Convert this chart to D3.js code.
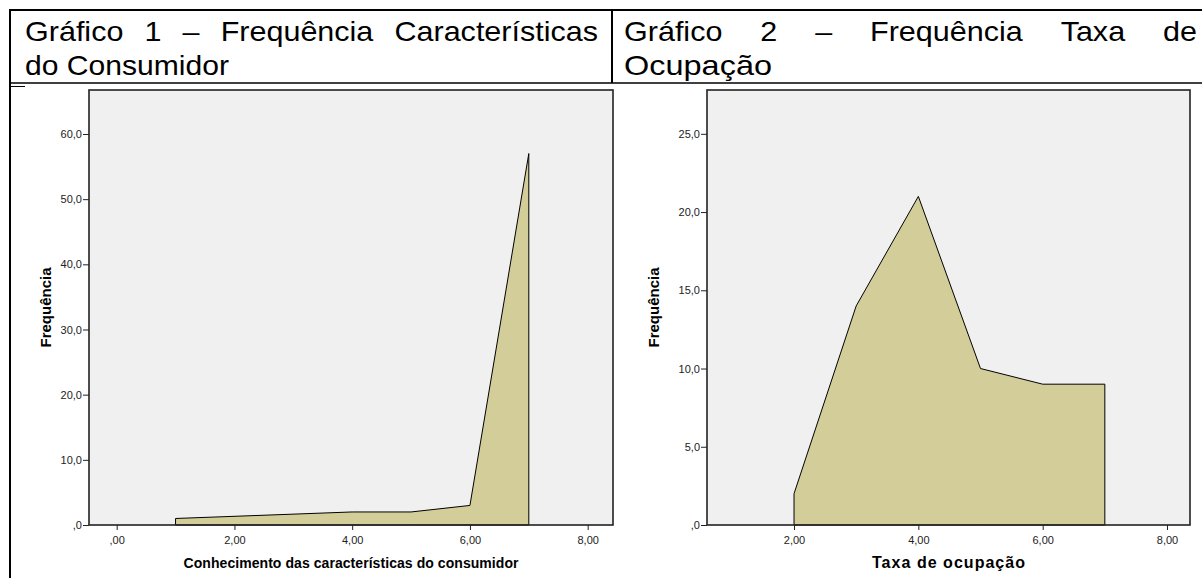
<!DOCTYPE html>
<html><head><meta charset="utf-8">
<script src="https://cdn.jsdelivr.net/npm/d3@7"></script>
<style>
body{margin:0;background:#fff}
svg{display:block}
text{font-family:"Liberation Sans",Arial,sans-serif}
</style>
</head><body>
<svg id="c" width="1202" height="578"></svg>
<script>
// ---- data ----
const leftCategories = [1, 4, 5, 6, 7];
const leftFrequencies = [1, 2, 2, 3, 57];
const rightCategories = [2, 3, 4, 5, 6, 7];
const rightFrequencies = [2, 14, 21, 10, 9, 9];

const leftXTicks = [0, 2, 4, 6, 8];
const leftXTickLabels = [",00", "2,00", "4,00", "6,00", "8,00"];
const leftYTicks = [0, 10, 20, 30, 40, 50, 60];
const leftYTickLabels = [",0", "10,0", "20,0", "30,0", "40,0", "50,0", "60,0"];
const rightXTicks = [2, 4, 6, 8];
const rightXTickLabels = ["2,00", "4,00", "6,00", "8,00"];
const rightYTicks = [0, 5, 10, 15, 20, 25];
const rightYTickLabels = [",0", "5,0", "10,0", "15,0", "20,0", "25,0"];

const titleLeft = ["Gráfico 1 – Frequência Características", "do Consumidor"];
const titleRight = ["Gráfico 2 – Frequência Taxa de", "Ocupação"];
const xTitleLeft = "Conhecimento das características do consumidor";
const xTitleRight = "Taxa de ocupação";
const yTitle = "Frequência";

// ---- drawing ----
const svg = d3.select("#c");
const ink = "#000";

// table lines
const tbl = svg.append("g").attr("stroke", ink);
tbl.append("line").attr("x1", 9).attr("x2", 1202).attr("y1", 10).attr("y2", 10).attr("stroke-width", 2);
tbl.append("line").attr("x1", 10).attr("x2", 10).attr("y1", 9).attr("y2", 578).attr("stroke-width", 2);
tbl.append("line").attr("x1", 10).attr("x2", 1202).attr("y1", 83).attr("y2", 83).attr("stroke-width", 1.5);
tbl.append("line").attr("x1", 612).attr("x2", 612).attr("y1", 10).attr("y2", 83).attr("stroke-width", 2);
tbl.append("line").attr("x1", 10).attr("x2", 25).attr("y1", 86.5).attr("y2", 86.5).attr("stroke-width", 1);

// titles: first line justified, second line left
function drawTitle(lines, x0, x1, w2target) {
  const fs = 28, stretch = 1.09;
  const g = svg.append("g").attr("font-size", fs).attr("fill", ink);
  const words = lines[0].split(" ");
  const nodes = words.map(w => g.append("text").attr("y", 41).text(w));
  const widths = nodes.map(n => n.node().getComputedTextLength() * stretch);
  const total = d3.sum(widths);
  const gap = (x1 - x0 - total) / (words.length - 1);
  let cx = x0;
  nodes.forEach((n, i) => {
    n.attr("x", cx).attr("textLength", widths[i]).attr("lengthAdjust", "spacingAndGlyphs");
    cx += widths[i] + gap;
  });
  const t2 = g.append("text").attr("x", x0).attr("y", 75).text(lines[1]);
  const w2 = w2target || t2.node().getComputedTextLength() * stretch;
  t2.attr("textLength", w2).attr("lengthAdjust", "spacingAndGlyphs");
}
drawTitle(titleLeft, 25, 598, 204);
drawTitle(titleRight, 624, 1197, 148);

function drawChart(cfg) {
  const x = d3.scaleLinear().domain(cfg.xDomain).range([cfg.left, cfg.right]);
  const y = d3.scaleLinear().domain(cfg.yDomain).range([cfg.bottom, cfg.top]);
  const g = svg.append("g");

  g.append("rect")
    .attr("x", cfg.left).attr("y", cfg.top)
    .attr("width", cfg.right - cfg.left).attr("height", cfg.bottom - cfg.top)
    .attr("fill", "#f0f0f0");

  const data = cfg.cats.map((c, i) => ({ x: c, y: cfg.vals[i] }));
  const area = d3.area().x(d => x(d.x)).y0(y(0)).y1(d => y(d.y));
  g.append("path").datum(data)
    .attr("d", area)
    .attr("fill", "#d3ce99")
    .attr("stroke", "#000").attr("stroke-width", 1).attr("stroke-linejoin", "miter");

  g.append("rect")
    .attr("x", cfg.left).attr("y", cfg.top)
    .attr("width", cfg.right - cfg.left).attr("height", cfg.bottom - cfg.top)
    .attr("fill", "none").attr("stroke", "#222").attr("stroke-width", 1.6);

  const xa = g.append("g").attr("transform", `translate(0,${cfg.bottom})`)
    .call(d3.axisBottom(x).tickValues(cfg.xTicks)
      .tickFormat((d, i) => cfg.xLabels[i]).tickSize(5).tickPadding(6));
  xa.select(".domain").remove();
  xa.selectAll("line").attr("stroke", "#222");
  xa.selectAll("text").attr("font-size", 11).attr("fill", "#222")
    .attr("font-family", '"Liberation Sans",Arial,sans-serif');

  const ya = g.append("g").attr("transform", `translate(${cfg.left},0)`)
    .call(d3.axisLeft(y).tickValues(cfg.yTicks)
      .tickFormat((d, i) => cfg.yLabels[i]).tickSize(6).tickPadding(1));
  ya.select(".domain").remove();
  ya.selectAll("line").attr("stroke", "#222");
  ya.selectAll("text").attr("font-size", 11).attr("fill", "#222")
    .attr("font-family", '"Liberation Sans",Arial,sans-serif');

  const xt = g.append("text")
    .attr("x", (cfg.left + cfg.right) / 2).attr("y", 568)
    .attr("text-anchor", "middle").attr("font-weight", "bold")
    .attr("font-size", cfg.xTitleSize).attr("fill", ink)
    .text(cfg.xTitle);
  if (cfg.xTitleLen) xt.attr("textLength", cfg.xTitleLen).attr("lengthAdjust", "spacing");

  g.append("text")
    .attr("transform", `translate(${cfg.yTitleX},${(cfg.top + cfg.bottom) / 2}) rotate(-90)`)
    .attr("text-anchor", "middle").attr("font-weight", "bold")
    .attr("font-size", 15).attr("fill", ink)
    .text(yTitle);
}

drawChart({
  left: 89, right: 613, top: 90, bottom: 525,
  xDomain: [-0.47, 8.43], yDomain: [0, 66.75],
  cats: leftCategories, vals: leftFrequencies,
  xTicks: leftXTicks, xLabels: leftXTickLabels,
  yTicks: leftYTicks, yLabels: leftYTickLabels,
  xTitle: xTitleLeft, xTitleSize: 14, xTitleLen: 335, yTitleX: 51
});

drawChart({
  left: 707, right: 1190, top: 90, bottom: 525,
  xDomain: [0.6, 8.37], yDomain: [0, 27.8],
  cats: rightCategories, vals: rightFrequencies,
  xTicks: rightXTicks, xLabels: rightXTickLabels,
  yTicks: rightYTicks, yLabels: rightYTickLabels,
  xTitle: xTitleRight, xTitleSize: 16, xTitleLen: 153, yTitleX: 659
});
</script>
</body></html>
